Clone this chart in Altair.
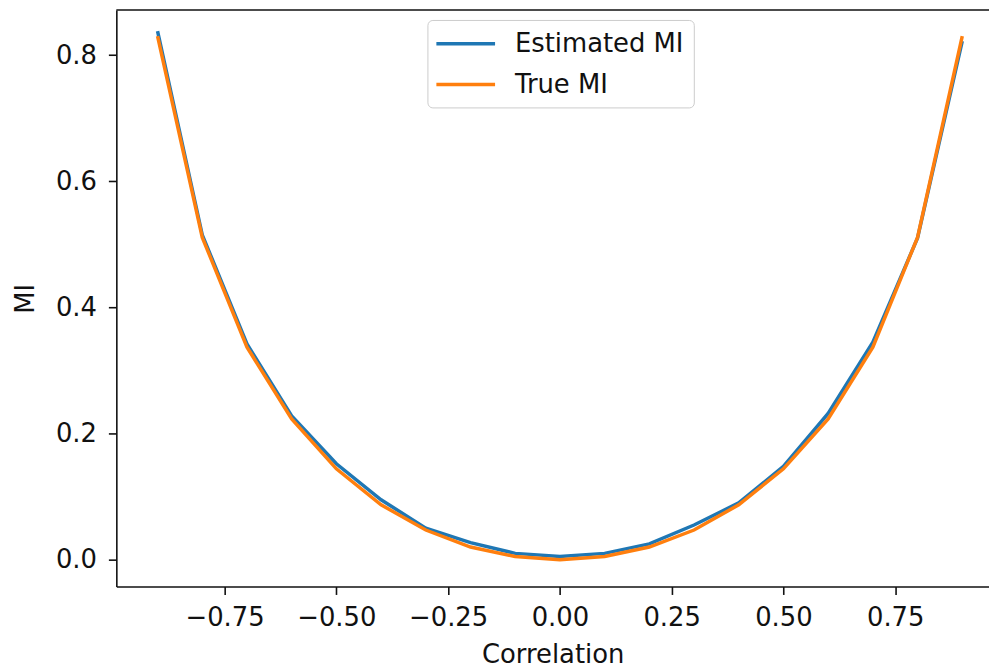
import altair as alt
import pandas as pd

correlation = [-0.9, -0.8, -0.7, -0.6, -0.5, -0.4, -0.3, -0.2, -0.1, 0.0,
               0.1, 0.2, 0.3, 0.4, 0.5, 0.6, 0.7, 0.8, 0.9]
estimated_mi = [0.838, 0.515, 0.342, 0.228, 0.152, 0.095, 0.050, 0.027, 0.010, 0.005,
                0.010, 0.025, 0.055, 0.090, 0.148, 0.232, 0.345, 0.510, 0.822]
true_mi = [0.830, 0.511, 0.337, 0.223, 0.144, 0.087, 0.047, 0.020, 0.005, 0.000,
           0.005, 0.020, 0.047, 0.087, 0.144, 0.223, 0.337, 0.511, 0.830]
series_names = ["Estimated MI", "True MI"]
series_colors = ["#1f77b4", "#ff7f0e"]
x_ticks = [-0.75, -0.5, -0.25, 0.0, 0.25, 0.5, 0.75]
y_ticks = [0.0, 0.2, 0.4, 0.6, 0.8]

rows = []
for c, e, t in zip(correlation, estimated_mi, true_mi):
    rows.append({"Correlation": c, "MI": e, "series": series_names[0]})
    rows.append({"Correlation": c, "MI": t, "series": series_names[1]})
df = pd.DataFrame(rows)

FONT = "DejaVu Sans"
FS = 26
W, H = 878, 580

lines = alt.Chart(df).mark_line(strokeWidth=3.5).encode(
    x=alt.X("Correlation:Q",
            scale=alt.Scale(domain=[-0.9922, 0.9598], nice=False, zero=False),
            axis=alt.Axis(values=x_ticks, format=".2f", title="Correlation",
                          titlePadding=11)),
    y=alt.Y("MI:Q",
            scale=alt.Scale(domain=[-0.0425, 0.8714], nice=False, zero=False),
            axis=alt.Axis(values=y_ticks, format=".1f", title="MI",
                          titlePadding=17)),
    color=alt.Color("series:N",
                    scale=alt.Scale(domain=series_names, range=series_colors),
                    legend=alt.Legend(
                        title=None, orient="none", legendX=313, legendY=10,
                        symbolType="M-1.25,0H3.67", symbolSize=576,
                        symbolStrokeWidth=3.5, labelOffset=50, labelLimit=0,
                        labelFont=FONT, labelFontSize=FS, labelColor="#111",
                        rowPadding=14, padding=10, strokeColor="#cccccc",
                        fillColor="white", cornerRadius=5)),
)

top_border = alt.Chart(alt.Data(values=[{}])).mark_rule(
    color="#111", strokeWidth=1.6
).encode(x=alt.value(0), x2=alt.value(W), y=alt.value(0))

chart = alt.layer(lines, top_border).properties(
    width=W, height=H,
    autosize=alt.AutoSizeParams(type="none"),
    padding={"left": 109, "top": 0, "right": 0, "bottom": 86},
).configure_view(stroke=None).configure_axis(
    grid=False, domainColor="#111", domainWidth=1.6, tickColor="#111",
    tickWidth=1.6, tickSize=8, labelFont=FONT, labelFontSize=FS,
    labelColor="#111", labelPadding=10, titleFont=FONT, titleFontSize=FS,
    titleFontWeight="normal", titleColor="#111",
).configure_axisY(labelPadding=12)

chart.save("out.html", embed_options={"renderer": "svg", "actions": False})
